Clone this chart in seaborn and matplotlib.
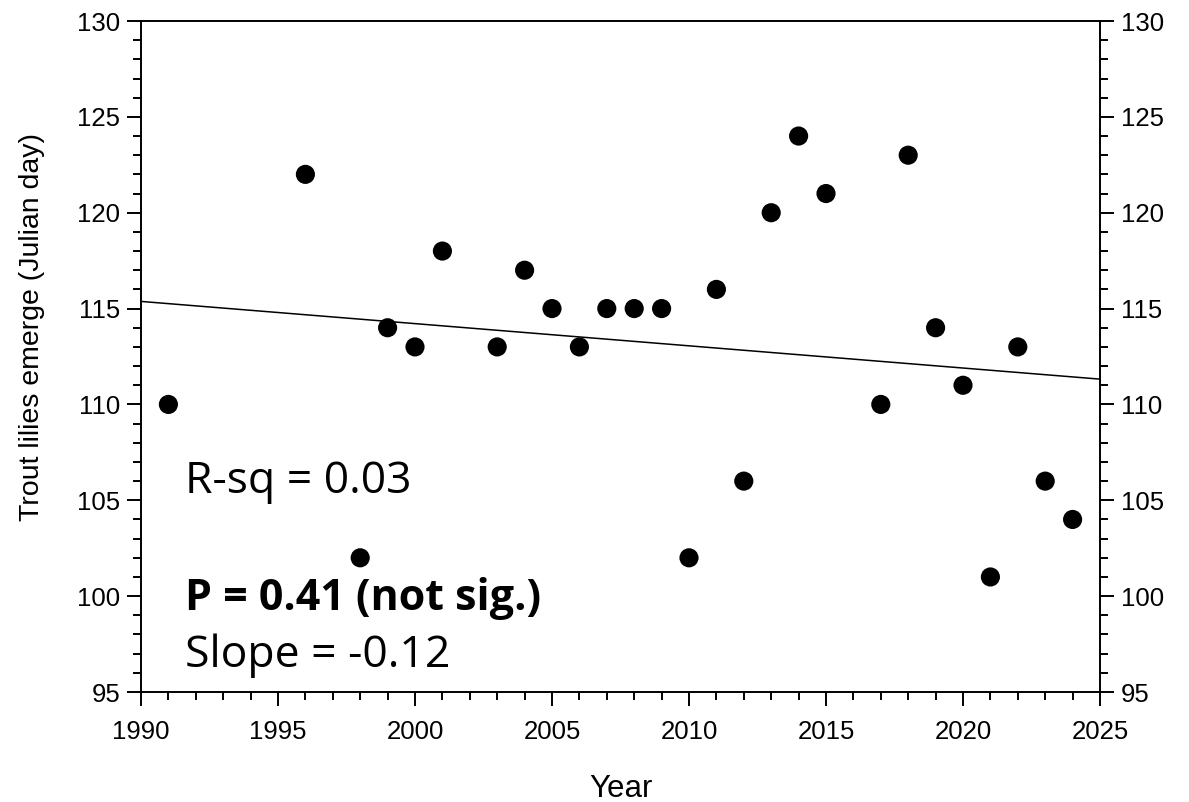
import numpy as np
import pandas as pd
import matplotlib
matplotlib.use("Agg")
import matplotlib.pyplot as plt
import seaborn as sns
from matplotlib.ticker import MultipleLocator

years = [1991, 1996, 1998, 1999, 2000, 2001, 2003, 2004, 2005, 2006, 2007, 2008,
         2009, 2010, 2011, 2012, 2013, 2014, 2015, 2017, 2018, 2019, 2020, 2021,
         2022, 2023, 2024]
emerge_day = [110, 122, 102, 114, 113, 118, 113, 117, 115, 113, 115, 115,
              115, 102, 116, 106, 120, 124, 121, 110, 123, 114, 111, 101,
              113, 106, 104]

stats_lines = ["R-sq = 0.03", "P = 0.41 (not sig.)", "Slope = -0.12"]


def main():
    sns.set_style("ticks")
    plt.rcParams['font.family'] = ['Liberation Sans', 'DejaVu Sans']
    plt.rcParams['text.color'] = 'black'
    plt.rcParams['axes.labelcolor'] = 'black'
    df = pd.DataFrame({"Year": years, "Day": emerge_day})

    fig = plt.figure(figsize=(11.89, 8.02), dpi=100)
    ax = fig.add_axes([141 / 1189, 1 - 692 / 802, 959 / 1189, 671 / 802])
    ax.set_xlim(1990, 2025)
    ax.set_ylim(95, 130)

    sns.regplot(data=df, x="Year", y="Day", ax=ax, ci=None, truncate=False,
                scatter_kws=dict(s=190, color="black", alpha=1, edgecolor="none", zorder=3),
                line_kws=dict(color="black", lw=1.1))
    ax.set_xlim(1990, 2025)
    ax.set_ylim(95, 130)

    ax.xaxis.set_major_locator(MultipleLocator(5))
    ax.xaxis.set_minor_locator(MultipleLocator(1))
    ax.yaxis.set_major_locator(MultipleLocator(5))
    ax.yaxis.set_minor_locator(MultipleLocator(1))
    ax.tick_params(which="both", direction="out", width=1.4, colors="black",
                   labelsize=18.5, top=False, right=True, labelright=True)
    ax.tick_params(which="major", length=10)
    ax.tick_params(which="minor", length=6)
    ax.tick_params(axis="x", which="major", pad=10)
    ax.tick_params(axis="y", which="major", pad=5)
    for sp in ax.spines.values():
        sp.set_visible(True)
        sp.set_linewidth(1.4)
        sp.set_color("black")

    ax.set_xlabel("Year", fontsize=22.5, labelpad=22)
    ax.set_ylabel("Trout lilies emerge (Julian day)", fontsize=20.5)
    ax.yaxis.set_label_coords(-0.100, 0.544)

    ann_font = ['Open Sans', 'DejaVu Sans']
    ax.text(1991.6, 105.38, stats_lines[0], fontsize=32, va="baseline", family=ann_font)
    ax.text(1991.6, 99.28, stats_lines[1], fontsize=31, va="baseline",
            fontweight="bold", family=ann_font)
    ax.text(1991.6, 96.30, stats_lines[2], fontsize=32, va="baseline", family=ann_font)

    fig.savefig("out.png", dpi=100)


if __name__ == "__main__":
    main()
